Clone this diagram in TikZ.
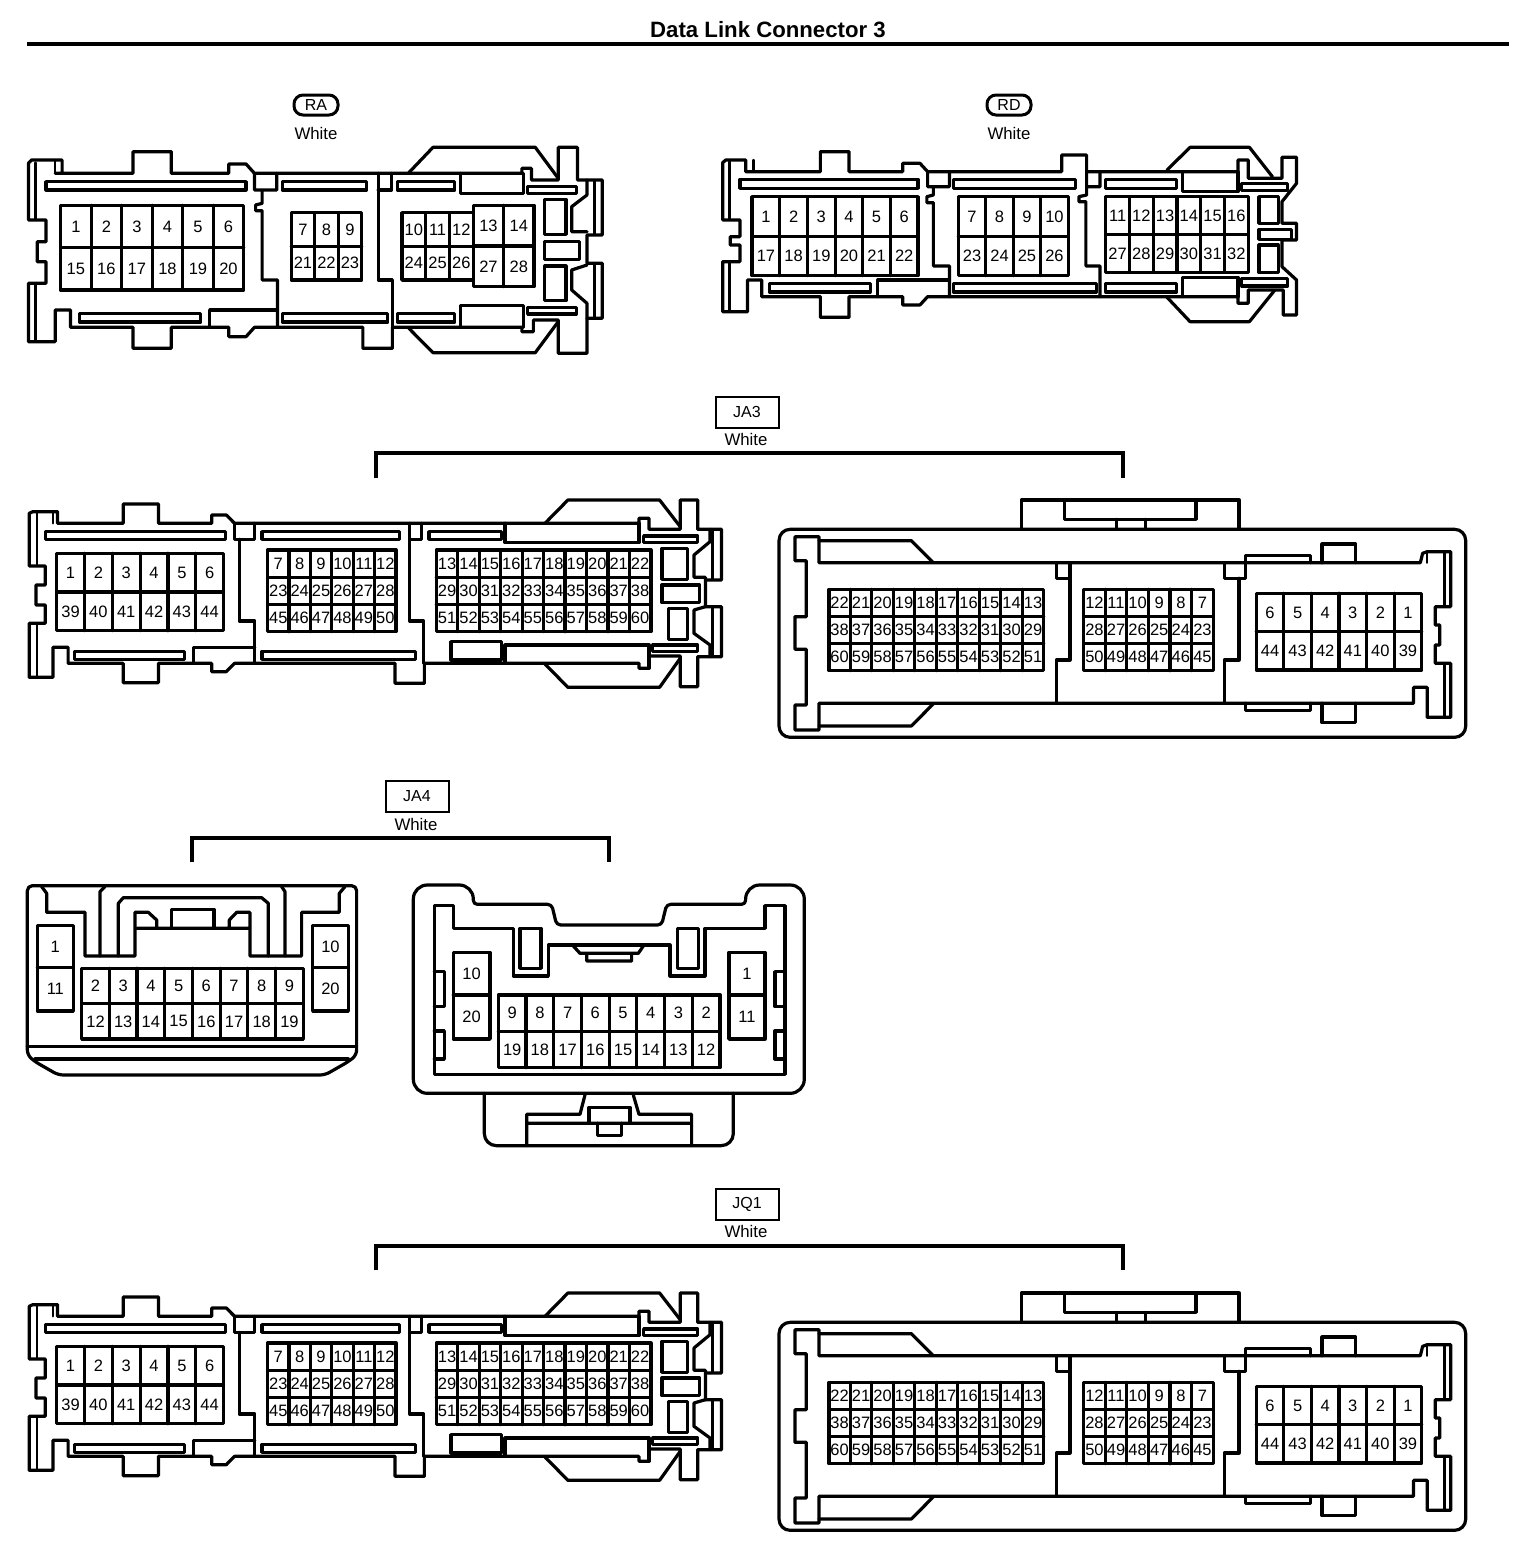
\documentclass[tikz,border=0pt]{standalone}
\usepackage{fontspec}
\setmainfont{Liberation Sans}
\tikzset{
  ol/.style={line width=3.2pt,line join=round,line cap=round},
  thin line/.style={line width=2.4pt,line join=round,line cap=round},
  bracketline/.style={line width=3.5pt,line join=miter,line cap=butt},
  pinlabel/.style={inner sep=0pt,font=\fontsize{16.5}{18}\selectfont},
  tag/.style={draw,line width=2pt,inner sep=0pt,font=\fontsize{16}{18}\selectfont},
  colourlabel/.style={inner sep=0pt,font=\fontsize{16.8}{18}\selectfont},
  zone/.style n args={4}{shift={(#1pt,#2pt)},x=#3pt,y=#4pt}
}
% x0 y0 x1 y1 cols rows labels
\newcommand\pingrid[7]{%
  \draw[ol,line width=3.4pt,fill=white] (#1,#2) rectangle (#3,#4);
  \foreach \pk in {1,...,\numexpr#5-1\relax}{
    \draw[ol] ({#1+\pk*(#3-#1)/#5},#2) -- ({#1+\pk*(#3-#1)/#5},#4);
  }
  \foreach \pk in {1,...,\numexpr#6-1\relax}{
    \draw[ol] (#1,{#2+\pk*(#4-#2)/#6}) -- (#3,{#2+\pk*(#4-#2)/#6});
  }
  \foreach \pn [count=\pi from 0] in {#7}{
    \pgfmathtruncatemacro\pcc{mod(\pi,#5)}
    \pgfmathtruncatemacro\prr{int(\pi/#5)}
    \node[pinlabel] (pin\pn) at ({#1+(\pcc+.5)*(#3-#1)/#5},{#2+(\prr+.5)*(#4-#2)/#6}) {\pn};
  }
}
\newcommand\pincolumn[6]{%
  \draw[ol,line width=3.4pt,fill=white] (#1,#2) rectangle (#3,#4);
  \draw[ol] (#1,#5) -- (#3,#5);
  \foreach \pn [count=\pi from 0] in {#6}{
    \node[pinlabel] (pin\pn) at ({(#1+#3)/2},{\pi==0 ? (#2+#5)/2 : (#5+#4)/2}) {\pn};
  }
}
\newcommand\longconnector{%
  \draw[ol] (85,100)--(225,100)--(225,42)--(302,42)--(302,100)--(418,100)--(418,75)--(450,75)--(468,100)--(1350,100)--(1350,85)--(1372,85)--(1372,118)--(1440,118)--(1440,30)--(1478,30)--(1478,118)--(1530,118)--(1530,270)--(1495,270);
  \draw[ol] (1145,100)--(1195,30)--(1395,30)--(1440,110);
  \draw[ol] (1505,118)--(1505,155)--(1470,195)--(1470,262)--(1495,262)--(1495,350)--(1530,350)--(1530,500)--(1478,500)--(1478,590)--(1440,590)--(1440,498)--(1372,498)--(1372,535)--(1350,535)--(1350,520)--(882,520)--(882,580)--(818,580)--(818,520)--(468,520)--(450,545)--(418,545)--(418,520)--(302,520)--(302,578)--(225,578)--(225,520)--(105,520)--(105,472)--(72,472)--(72,562)--(20,562)--(20,400)--(55,400)--(55,345)--(35,345)--(35,285)--(55,285)--(55,228)--(20,228)--(20,70)--(28,65)--(82,65)--(82,100)--(85,100);
  \draw[ol] (1145,522)--(1195,592)--(1395,592)--(1440,505);
  \draw[ol] (1495,350)--(1470,360)--(1470,430)--(1505,465)--(1505,500);
  \draw[thin line] (1510,118)--(1510,268) (1510,352)--(1510,498);
  \draw[thin line] (37,70)--(37,228) (37,400)--(37,560) (72,65)--(72,100);
  \draw[ol] (55,125) rectangle (448,148) (118,484) rectangle (358,508) (528,125) rectangle (828,148) (528,484) rectangle (862,508) (892,125) rectangle (1050,148);
  \draw[ol] (1058,100)--(1058,158)--(1350,158)--(1350,100);
  \draw[ol] (1058,520)--(1058,465)--(1372,465)--(1372,535);
  \draw[ol] (940,455) rectangle (1050,510);
  \draw[ol] (1360,138) rectangle (1478,158) (1380,465) rectangle (1478,485);
  \draw[ol] (1400,175) rectangle (1455,268) (1400,285) rectangle (1482,338) (1415,355) rectangle (1455,448);
  \draw[ol] (468,100)--(468,148)--(512,148)--(512,100) (478,148)--(478,393)--(512,393)--(512,520);
  \draw[ol] (378,520)--(378,472)--(512,472);
  \draw[ol] (850,100)--(850,393)--(880,393)--(880,520) (850,148)--(875,148)--(875,100);
  \pingrid{80}{190}{444}{422}{6}{2}{1,2,3,4,5,6,39,40,41,42,43,44}
  \pingrid{540}{180}{820}{425}{6}{3}{7,8,9,10,11,12,23,24,25,26,27,28,45,46,47,48,49,50}
  \pingrid{908}{180}{1376}{425}{10}{3}{13,14,15,16,17,18,19,20,21,22,29,30,31,32,33,34,35,36,37,38,51,52,53,54,55,56,57,58,59,60}
}
\newcommand\wideconnector{%
  \draw[ol,rounded corners=11pt] (20,118) rectangle (1535,742);
  \draw[ol] (555,118)--(555,30)--(1035,30)--(1035,118);
  \draw[ol] (650,30)--(650,88)--(940,88)--(940,30) (765,88)--(765,118) (828,88)--(828,118);
  \draw[ol] (108,218)--(1435,218)--(1440,190)--(1450,185)--(1502,185)--(1502,350)--(1468,350)--(1468,405)--(1478,405)--(1478,465)--(1468,465)--(1468,520)--(1502,520)--(1502,682)--(1450,682)--(1450,592)--(1420,592)--(1420,640)--(108,640)--(108,720)--(55,720)--(55,645)--(80,645)--(80,478)--(55,478)--(55,380)--(80,380)--(80,212)--(55,212)--(55,140)--(108,140)--cycle;
  \draw[thin line] (1488,190)--(1488,345) (1488,525)--(1488,680) (1450,190)--(1450,218);
  \draw[ol] (108,152)--(312,152)--(360,218) (108,708)--(312,708)--(360,642);
  \draw[ol] (1050,218)--(1050,196)--(1192,196)--(1192,218) (1218,218)--(1218,162)--(1292,162)--(1292,218);
  \draw[ol] (1050,640)--(1050,662)--(1192,662)--(1192,640) (1218,640)--(1218,698)--(1292,698)--(1292,640);
  \draw[ol] (632,218)--(632,265)--(662,265)--(662,218) (662,265)--(662,510)--(632,510)--(632,640);
  \draw[ol] (1002,218)--(1002,265)--(1050,265)--(1050,218) (1035,265)--(1035,510)--(1002,510)--(1002,640);
  \pingrid{130}{298}{604}{542}{10}{3}{22,21,20,19,18,17,16,15,14,13,38,37,36,35,34,33,32,31,30,29,60,59,58,57,56,55,54,53,52,51}
  \pingrid{692}{298}{978}{542}{6}{3}{12,11,10,9,8,7,28,27,26,25,24,23,50,49,48,47,46,45}
  \pingrid{1073}{310}{1438}{540}{6}{2}{6,5,4,3,2,1,44,43,42,41,40,39}
}
\begin{document}
\begin{tikzpicture}[x=1pt,y=-1pt]
\useasboundingbox (0,0) rectangle (1520,1556);
\fill[white] (0,0) rectangle (1520,1556);

% title
\node[inner sep=0pt,font=\bfseries\fontsize{22.2}{24}\selectfont] (title) at (768,30) {Data Link Connector 3};
\coordinate (ruleL) at (27,44);
\coordinate (ruleR) at (1509,44);
\draw[line width=4.5pt] (ruleL) -- (ruleR);

% RA
\node[tag,line width=3pt,rounded corners=9pt,minimum width=44pt,minimum height=20pt] (ra) at (316,105) {RA};
\node[colourlabel] (rawhite) at (316,133) {White};
\begin{scope}[zone={20}{-140}{0.3831}{-0.3333},name prefix=ra-]
  \draw[ol] (92,100)--(295,100)--(295,35)--(395,35)--(395,100)--(545,100)--(545,72)--(590,72)--(612,100)--(1310,100)--(1310,85)--(1335,85)--(1335,120)--(1405,120)--(1405,22)--(1455,22)--(1455,120)--(1520,120)--(1520,285)--(1480,285)--(1480,370)--(1520,370)--(1520,535)--(1480,535)--(1480,640)--(1405,640)--(1405,540)--(1340,540)--(1340,575)--(1310,575)--(1310,562)--(972,562)--(972,625)--(895,625)--(895,562)--(612,562)--(590,590)--(545,590)--(545,562)--(395,562)--(395,625)--(295,625)--(295,562)--(132,562)--(132,510)--(92,510)--(92,605)--(22,605)--(22,430)--(68,430)--(68,365)--(45,365)--(45,305)--(68,305)--(68,240)--(22,240)--(22,70)--(30,60)--(110,60)--(110,100);
  \draw[ol] (1015,98)--(1078,22)--(1345,22)--(1405,115) (1015,565)--(1078,638)--(1345,638)--(1405,545);
  \draw[ol] (1480,120)--(1480,165)--(1440,200)--(1440,275)--(1480,275) (1480,375)--(1440,390)--(1440,450)--(1480,490)--(1480,535);
  \draw[thin line] (1500,122)--(1500,283) (1500,372)--(1500,533) (40,68)--(40,240) (40,430)--(40,600) (92,60)--(92,100);
  \draw[ol] (68,125) rectangle (590,150) (155,520) rectangle (472,546) (685,125) rectangle (905,150) (685,520) rectangle (960,546) (985,125) rectangle (1135,150) (985,520) rectangle (1135,546);
  \draw[ol] (1150,100)--(1150,160)--(1315,160)--(1315,100) (1150,562)--(1150,497)--(1315,497)--(1315,562);
  \draw[ol] (1325,140) rectangle (1452,160) (1325,503) rectangle (1452,522);
  \draw[ol] (1370,178) rectangle (1425,283) (1370,305) rectangle (1460,358) (1370,378) rectangle (1425,482);
  \draw[ol] (612,100)--(612,150)--(670,150)--(670,100) (632,150)--(632,190)--(615,195)--(615,212)--(632,212)--(632,420)--(672,420)--(672,562);
  \draw[ol] (495,562)--(495,510)--(672,510);
  \draw[ol] (935,100)--(935,420)--(972,420)--(972,562) (935,150)--(970,150)--(970,100);
  \pingrid{106}{196}{584}{450}{6}{2}{1,2,3,4,5,6,15,16,17,18,19,20}
  \pingrid{708}{218}{892}{420}{3}{2}{7,8,9,21,22,23}
  \pingrid{997}{218}{1183}{420}{3}{2}{10,11,12,24,25,26}
  \pingrid{1183}{196}{1342}{440}{2}{2}{13,14,27,28}
\end{scope}

% RD
\node[tag,line width=3pt,rounded corners=9pt,minimum width=44pt,minimum height=20pt] (rd) at (1009,105) {RD};
\node[colourlabel] (rdwhite) at (1009,133) {White};
\begin{scope}[zone={715}{-140}{0.3831}{-0.3333},name prefix=rd-]
  \draw[ol] (80,95)--(275,95)--(275,35)--(350,35)--(350,95)--(490,95)--(490,70)--(535,70)--(555,95)--(905,95)--(905,45)--(970,45)--(970,95)--(1365,95)--(1365,60)--(1392,60)--(1392,115)--(1480,115)--(1480,52)--(1518,52)--(1518,130)--(1480,185)--(1480,250)--(1518,250)--(1518,300)--(1480,300)--(1480,380)--(1518,420)--(1518,525)--(1483,525)--(1483,450)--(1392,450)--(1392,490)--(1365,490)--(1365,470)--(555,470)--(535,495)--(490,495)--(490,470)--(350,470)--(350,532)--(275,532)--(275,470)--(122,470)--(122,420)--(85,420)--(85,515)--(20,515)--(20,365)--(65,365)--(65,315)--(40,315)--(40,290)--(65,290)--(65,240)--(20,240)--(20,68)--(28,60)--(80,60)--(80,95);
  \draw[ol] (1180,90)--(1240,22)--(1395,22)--(1455,110) (1180,472)--(1240,545)--(1395,545)--(1460,452);
  \draw[thin line] (38,65)--(38,240) (38,365)--(38,512) (100,60)--(100,92);
  \draw[ol] (65,118) rectangle (530,145) (142,430) rectangle (405,456) (622,118) rectangle (942,145) (622,430) rectangle (995,456) (1020,118) rectangle (1205,145) (1020,430) rectangle (1205,456) (1375,130) rectangle (1495,152) (1375,415) rectangle (1495,438);
  \draw[ol] (1220,95)--(1220,155)--(1365,155)--(1365,95) (1220,470)--(1220,412)--(1365,412)--(1365,470);
  \draw[ol] (1420,170) rectangle (1470,250) (1420,268) rectangle (1505,298) (1420,315) rectangle (1470,398);
  \draw[ol] (555,95)--(555,140)--(612,140)--(612,95) (570,140)--(570,165)--(553,170)--(553,188)--(570,188)--(570,378)--(612,378)--(612,470);
  \draw[ol] (425,470)--(425,420)--(612,420);
  \draw[ol] (970,95)--(970,165)--(950,170)--(950,185)--(968,185)--(968,378)--(1005,378)--(1005,470) (970,140)--(1005,140)--(1005,95);
  \pingrid{97}{170}{530}{407}{6}{2}{1,2,3,4,5,6,17,18,19,20,21,22}
  \pingrid{635}{170}{922}{407}{4}{2}{7,8,9,10,23,24,25,26}
  \pingrid{1020}{170}{1392}{397}{6}{2}{11,12,13,14,15,16,27,28,29,30,31,32}
\end{scope}

% JA3
\node[tag,minimum width=63pt,minimum height=31pt] (ja3) at (747,412) {JA3};
\node[colourlabel] (ja3white) at (746,439) {White};
\coordinate (ja3a) at (376,478); \coordinate (ja3b) at (1123,478);
\draw[bracketline] (ja3a) |- (ja3b |- 0,453) -- (ja3b);
\begin{scope}[zone={20}{-490}{0.4585}{-0.3333},name prefix=ja3l-] \longconnector \end{scope}
\begin{scope}[zone={770}{-490}{0.4532}{-0.3333},name prefix=ja3r-] \wideconnector \end{scope}

% JA4
\node[tag,minimum width=63pt,minimum height=31pt] (ja4) at (417,796) {JA4};
\node[colourlabel] (ja4white) at (416,824) {White};
\coordinate (ja4a) at (192,862); \coordinate (ja4b) at (609,862);
\draw[bracketline] (ja4a) |- (ja4b |- 0,838) -- (ja4b);
\begin{scope}[zone={20}{-875}{0.3333}{-0.3333},name prefix=ja4l-]
  \draw[ol,rounded corners=5pt] (22,300)--(22,32)--(1010,32)--(1010,540)--(985,560)--(915,600)--(115,600)--(45,560)--(22,540)--cycle;
  \draw[ol] (65,35)--(80,55)--(80,112)--(195,112)--(195,243)--(345,243)--(345,112)--(385,112)--(410,135)--(410,160);
  \draw[ol] (350,160)--(690,160) (628,160)--(628,135)--(650,112)--(690,112)--(690,243)--(845,243)--(845,112)--(958,112)--(958,55)--(975,35);
  \draw[ol] (240,243)--(240,50)--(255,35) (295,243)--(295,85)--(310,68)--(725,68)--(745,85)--(745,243) (795,243)--(795,50)--(785,35);
  \draw[ol] (455,158)--(455,103)--(582,103)--(582,158);
  \draw[ol] (22,515)--(1010,515) (45,552)--(985,552);
  \pincolumn{52}{152}{160}{408}{277}{1,11}
  \pincolumn{878}{152}{985}{408}{277}{10,20}
  \pingrid{185}{280}{850}{492}{8}{2}{2,3,4,5,6,7,8,9,12,13,14,15,16,17,18,19}
\end{scope}
\begin{scope}[zone={405}{-875}{0.3333}{-0.3333},name prefix=ja4r-]
  \draw[ol,rounded corners=14pt] (25,300)--(25,30)--(205,30)[rounded corners=4pt]--(205,88)--(440,88)--(455,150)--(770,150)--(785,88)--(1022,88)[rounded corners=14pt]--(1022,30)--(1198,30)--(1198,655)--(25,655)--cycle;
  \draw[ol] (88,92)--(145,92)--(145,160)--(325,160)--(325,303)--(430,303)--(430,210)--(795,210)--(795,303)--(900,303)--(900,160)--(1080,160)--(1080,92)--(1140,92)--(1140,598)--(88,598)--cycle;
  \draw[ol] (345,160) rectangle (408,280) (818,160) rectangle (880,280);
  \draw[ol] (505,213)--(525,235)--(700,235)--(715,213) (545,235)--(545,258)--(680,258)--(680,235);
  \draw[ol] (88,290)--(118,290)--(118,395)--(88,395) (88,468)--(118,468)--(118,552)--(88,552) (1140,290)--(1110,290)--(1110,395)--(1140,395) (1140,468)--(1110,468)--(1110,552)--(1140,552);
  \pincolumn{145}{232}{255}{492}{360}{10,20}
  \pincolumn{972}{232}{1080}{492}{360}{1,11}
  \pingrid{280}{360}{945}{578}{8}{2}{9,8,7,6,5,4,3,2,19,18,17,16,15,14,13,12}
  \draw[ol,rounded corners=12pt] (238,655)--(238,812)--(985,812)--(985,655);
  \draw[ol] (540,660)--(525,718)--(365,718)--(365,812) (685,660)--(702,718)--(860,718)--(860,812) (365,745)--(860,745);
  \draw[ol] (552,745)--(552,697)--(675,697)--(675,745) (578,745)--(578,782)--(650,782)--(650,745);
\end{scope}

% JQ1
\node[tag,minimum width=63pt,minimum height=31pt] (jq1) at (747,1204) {JQ1};
\node[colourlabel] (jq1white) at (746,1231) {White};
\coordinate (jq1a) at (376,1270); \coordinate (jq1b) at (1123,1270);
\draw[bracketline] (jq1a) |- (jq1b |- 0,1246) -- (jq1b);
\begin{scope}[zone={20}{-1283}{0.4585}{-0.3333},name prefix=jq1l-] \longconnector \end{scope}
\begin{scope}[zone={770}{-1283}{0.4532}{-0.3333},name prefix=jq1r-] \wideconnector \end{scope}
\end{tikzpicture}
\end{document}
